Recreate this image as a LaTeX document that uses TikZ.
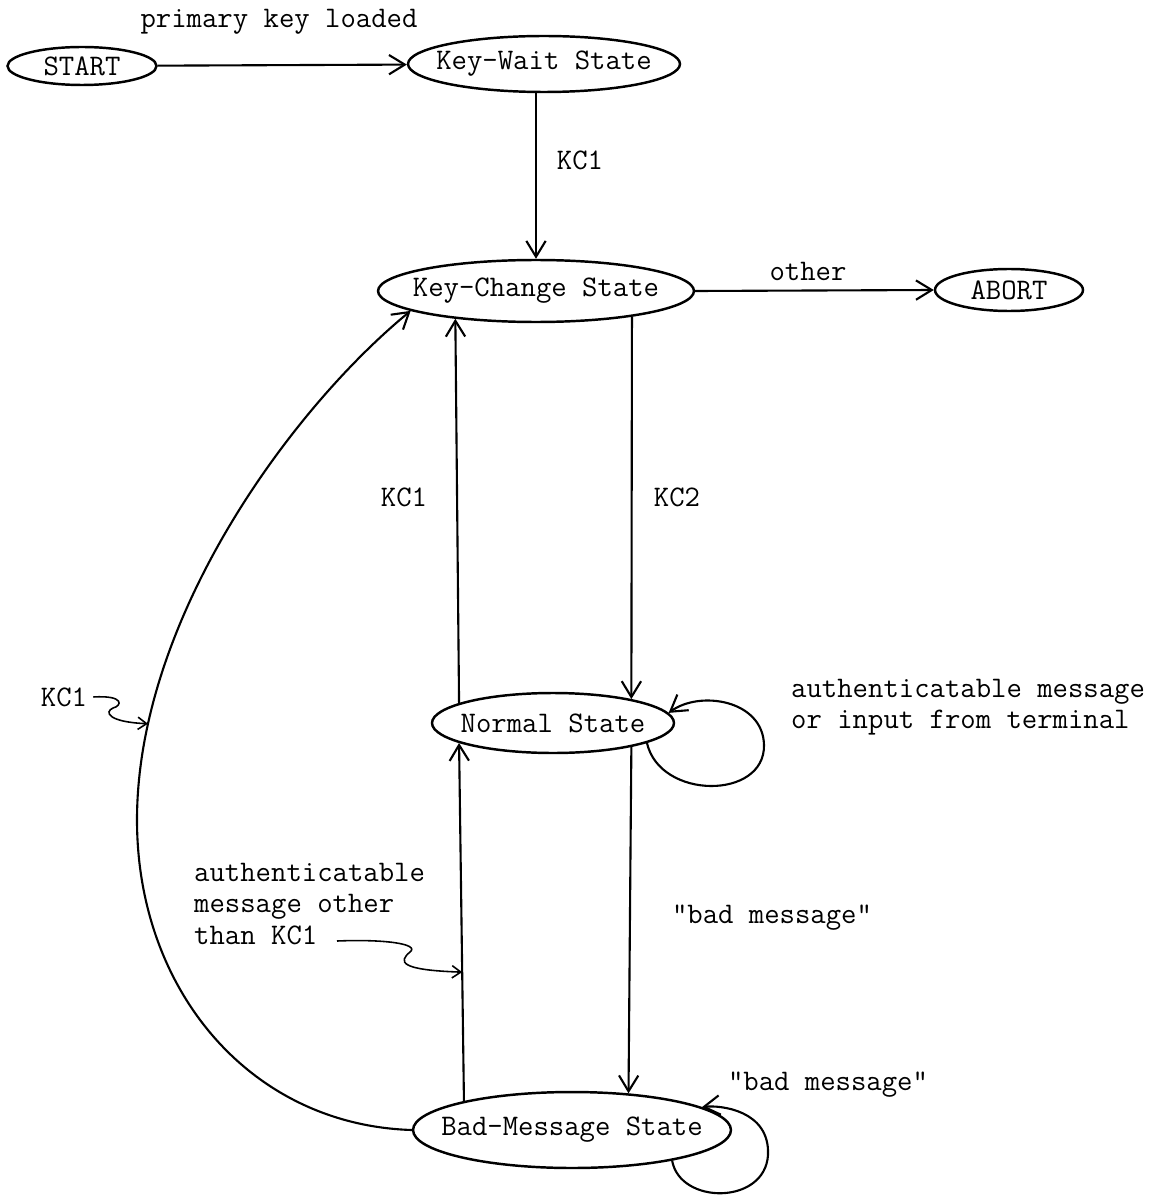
\documentclass[tikz,border=0pt]{standalone}
\usetikzlibrary{shapes.geometric,arrows.meta}
\begin{document}
\begin{tikzpicture}[
				x=0.02cm, y=-0.02cm,
				font=\ttfamily\fontsize{17}{18}\selectfont,
				state/.style={ellipse, draw, line width=1.4pt, inner sep=0pt},
				trans/.style={->, line width=1.2pt},
				squig/.style={-{Straight Barb[length=5pt,width=7pt]}, line width=0.9pt},
				>={Straight Barb[length=9pt,width=11pt]}]
				
				\useasboundingbox (0,0) rectangle (1167,1199);
				
				% States
				\node[state, minimum width=2.98cm, minimum height=0.76cm, label=center:START] (start) at (82,66) {};
				\node[state, minimum width=5.44cm, minimum height=1.12cm, label=center:{Key-Wait State}] (keywait) at (544,64) {};
				\node[state, minimum width=6.32cm, minimum height=1.24cm, label=center:{Key-Change State}] (keychange) at (536,291) {};
				\node[state, minimum width=2.96cm, minimum height=0.84cm, label=center:ABORT] (abort) at (1009,290) {};
				\node[state, minimum width=4.84cm, minimum height=1.2cm, label=center:{Normal State}] (normal) at (553,723) {};
				\node[state, minimum width=6.36cm, minimum height=1.52cm, label=center:{Bad-Message State}] (badmsg) at (572,1130) {};
				
				% Labels
				\node (lblprimary) at (279,22) {primary key loaded};
				\node (lblkcone) at (580,160) {KC1};
				\node (lblother) at (808,271) {other};
				\node (lblback) at (404,497) {KC1};
				\node (lblkctwo) at (677,497) {KC2};
				\node[anchor=west, align=left] (lblauth) at (785,707) {authenticatable message\\or input from terminal};
				\node (lblbad) at (772,918) {"bad message"};
				\node (lblbadloop) at (828,1085) {"bad message"};
				\node[anchor=west, align=left] (lblauthkc) at (188,904) {authenticatable\\message other\\than KC1};
				\node (lblleft) at (64,697) {KC1};
				\coordinate (authfrom) at (337,941);
				
				% Transitions
				\draw[trans] (start) -- (keywait);
				\draw[trans] (keywait.south -| keychange.north) -- (keychange.north);
				\draw[trans] (keychange.east) -- (abort.west);
				\draw[trans] (keychange.-15.5) -- (normal.17.8);
				\draw[trans] (normal.168.9) -- (keychange.199);
				\draw[trans] (normal.-17.8) -- (badmsg.33);
				\draw[trans] (badmsg.165.7) -- coordinate[pos=0.36] (authhit) (normal.192.5);
				\draw[trans] (normal.-12) .. controls (660,800) and (765,800) .. (764,745)
					.. controls (763,700) and (700,690) .. (normal.5);
				\draw[trans] (badmsg.-17) .. controls (680,1205) and (765,1205) .. (768,1155)
					.. controls (770,1110) and (720,1105) .. (badmsg.10);
				\draw[trans] (badmsg.west) .. controls (250,1125) and (137,990) .. (137,820)
					.. controls (137,620) and (290,410) .. (keychange.189) coordinate[pos=0.16] (kc1hit);
				
				% Squiggly pointers
				\draw[squig] (lblleft.east) .. controls (125,695) and (122,706) .. (113,708)
					.. controls (104,712) and (108,722) .. (kc1hit);
				\draw[squig] (authfrom) .. controls (385,939) and (420,944) .. (410,952)
					.. controls (398,962) and (400,970) .. (authhit);
\end{tikzpicture}
\end{document}
